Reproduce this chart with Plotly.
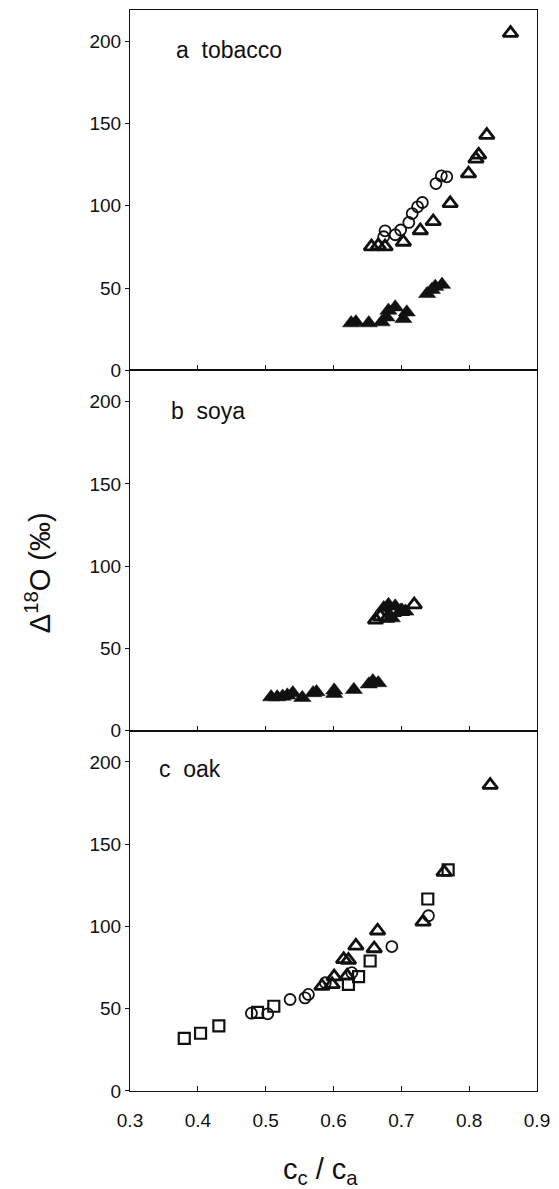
import plotly.graph_objects as go

# ---------- data ----------
# panel a: tobacco
a_open_tri_x = [0.861, 0.826, 0.814, 0.810, 0.799, 0.772, 0.747, 0.728, 0.703, 0.676, 0.666, 0.656]
a_open_tri_y = [205, 143, 131, 128.5, 119.5, 101.5, 90.5, 85, 78, 75.2, 75.8, 75.2]
a_circ_x = [0.767, 0.759, 0.751, 0.731, 0.724, 0.716, 0.711, 0.699, 0.691, 0.676, 0.674]
a_circ_y = [117.6, 118.2, 113.5, 102, 99.4, 95.3, 89.9, 85.3, 82.4, 84.8, 81.2]
a_fill_tri_x = [0.760, 0.750, 0.745, 0.738, 0.708, 0.703, 0.691, 0.681, 0.678, 0.671, 0.652, 0.633, 0.626]
a_fill_tri_y = [52.1, 50.9, 49, 46.5, 35.3, 31.3, 38.4, 36.4, 32.3, 29.3, 28.7, 29.3, 28.7]

# panel b: soya
b_open_tri_x = [0.719, 0.662, 0.669, 0.679, 0.689, 0.701]
b_open_tri_y = [76.6, 67.4, 69.4, 68.4, 71.9, 72.5]
b_fill_tri_x = [0.681, 0.674, 0.691, 0.699, 0.706, 0.686,
                0.666, 0.658, 0.652, 0.630, 0.601, 0.601,
                0.575, 0.570, 0.554, 0.540, 0.532, 0.525, 0.517, 0.508]
b_fill_tri_y = [76.6, 74.6, 75.6, 73, 72.5, 68.4,
                29, 30.2, 28.2, 24.9, 24.5, 22.5,
                23.5, 22.9, 20, 22.9, 21.5, 20.8, 20.4, 20.4]

# panel c: oak
c_tri_x = [0.831, 0.763, 0.732, 0.665, 0.660, 0.633, 0.615, 0.622, 0.620, 0.601, 0.598, 0.583]
c_tri_y = [185.9, 133, 102.8, 97.4, 86.6, 88.2, 80, 79.6, 70, 69.5, 64.8, 63.7]
c_sq_x = [0.769, 0.739, 0.654, 0.637, 0.622, 0.512, 0.488, 0.431, 0.404, 0.380]
c_sq_y = [134.4, 116.7, 79, 69.5, 64.8, 51.5, 47.8, 39.6, 35.1, 32.0]
c_circ_x = [0.740, 0.686, 0.627, 0.588, 0.563, 0.558, 0.536, 0.503, 0.479]
c_circ_y = [106.5, 87.8, 71.9, 65.8, 58.7, 56.6, 55.6, 46.9, 47.3]

x_ticks = [0.3, 0.4, 0.5, 0.6, 0.7, 0.8, 0.9]
y_ticks = [0, 50, 100, 150, 200]
panel_labels = ["a  tobacco", "b  soya", "c  oak"]

# ---------- figure ----------
FONT = "Liberation Sans, Arial, sans-serif"
INK = "#111111"
TICKSIZE = 19

def tri_open(x, y, xa, ya):
    return go.Scatter(x=x, y=y, mode="markers", xaxis=xa, yaxis=ya,
                      marker=dict(symbol="triangle-up-open", size=13, color=INK,
                                  line=dict(width=2.8, color=INK)))

def tri_fill(x, y, xa, ya):
    return go.Scatter(x=x, y=y, mode="markers", xaxis=xa, yaxis=ya,
                      marker=dict(symbol="triangle-up", size=15, color=INK,
                                  line=dict(width=0.5, color=INK)))

def circ(x, y, xa, ya):
    return go.Scatter(x=x, y=y, mode="markers", xaxis=xa, yaxis=ya,
                      marker=dict(symbol="circle-open", size=11, color=INK,
                                  line=dict(width=1.8, color=INK)))

def sq(x, y, xa, ya):
    return go.Scatter(x=x, y=y, mode="markers", xaxis=xa, yaxis=ya,
                      marker=dict(symbol="square-open", size=11, color=INK,
                                  line=dict(width=2.2, color=INK)))

fig = go.Figure()
fig.add_trace(tri_fill(a_fill_tri_x, a_fill_tri_y, "x", "y"))
fig.add_trace(tri_open(a_open_tri_x, a_open_tri_y, "x", "y"))
fig.add_trace(circ(a_circ_x, a_circ_y, "x", "y"))

fig.add_trace(tri_fill(b_fill_tri_x, b_fill_tri_y, "x2", "y2"))
fig.add_trace(tri_open(b_open_tri_x, b_open_tri_y, "x2", "y2"))

fig.add_trace(tri_open(c_tri_x, c_tri_y, "x3", "y3"))
fig.add_trace(sq(c_sq_x, c_sq_y, "x3", "y3"))
fig.add_trace(circ(c_circ_x, c_circ_y, "x3", "y3"))

domains = [[2 / 3, 1.0], [1 / 3, 2 / 3], [0.0, 1 / 3]]
layout = dict(
    width=559, height=1189,
    margin=dict(l=130, r=22, t=10, b=98),
    paper_bgcolor="white", plot_bgcolor="white",
    showlegend=False,
    font=dict(family=FONT, size=TICKSIZE, color=INK),
)
for i in range(3):
    sfx = "" if i == 0 else str(i + 1)
    layout["xaxis" + sfx] = dict(
        domain=[0, 1], anchor="y" + sfx, range=[0.3, 0.9],
        tickvals=x_ticks, ticktext=[f"{v:.1f}" for v in x_ticks],
        showticklabels=(i == 2), ticks="inside", ticklen=5, tickwidth=1, tickcolor=INK,
        showline=True, linecolor=INK, linewidth=1, mirror=True,
        showgrid=False, zeroline=False, ticklabelstandoff=12,
        tickfont=dict(size=TICKSIZE, family=FONT, color=INK),
    )
    layout["yaxis" + sfx] = dict(
        domain=domains[i], anchor="x" + sfx, range=[0, 219],
        tickvals=y_ticks, ticks="outside", ticklen=4, tickwidth=1, tickcolor=INK,
        showline=True, linecolor=INK, linewidth=1, mirror=True,
        showgrid=False, zeroline=False,
        tickfont=dict(size=TICKSIZE, family=FONT, color=INK),
    )
fig.update_layout(**layout)

label_x = [0.107, 0.095, 0.066]
label_y = [194.5, 194, 196]
for i in range(3):
    sfx = "" if i == 0 else str(i + 1)
    fig.add_annotation(text=panel_labels[i], xref=f"x{sfx} domain", yref="y" + sfx,
                       x=label_x[i], y=label_y[i], xanchor="left", yanchor="middle",
                       showarrow=False, font=dict(size=23, family=FONT, color=INK))

fig.add_annotation(text="Δ<sup>18</sup>O (‰)", xref="paper", yref="paper",
                   x=-0.226, y=0.479, textangle=-90, showarrow=False,
                   xanchor="center", yanchor="middle",
                   font=dict(size=29, family=FONT, color=INK))
fig.add_annotation(text="c<sub>c</sub> / c<sub>a</sub>", xref="paper", yref="paper",
                   x=0.468, y=-0.074, showarrow=False,
                   xanchor="center", yanchor="middle",
                   font=dict(size=29, family=FONT, color=INK))

fig.write_html("out.html")
